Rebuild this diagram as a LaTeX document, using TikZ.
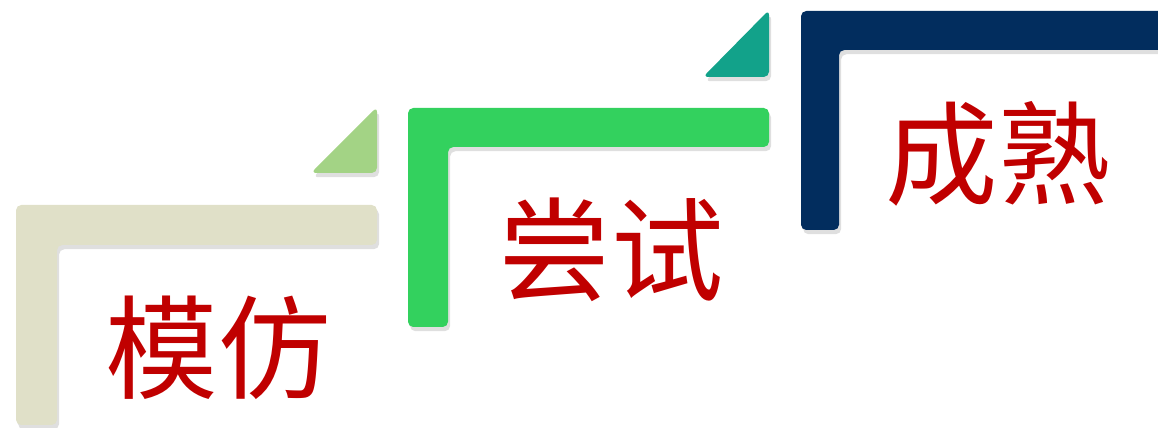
\documentclass[tikz,border=0pt]{standalone}
\usepackage{fontspec}
\newfontfamily\cjk{Noto Sans CJK SC}
\usetikzlibrary{shadows}
\definecolor{stepbeige}{RGB}{224,224,200}
\definecolor{steplime}{RGB}{163,211,133}
\definecolor{stepgreen}{RGB}{51,209,94}
\definecolor{stepteal}{RGB}{18,162,138}
\definecolor{stepnavy}{RGB}{2,45,94}
\definecolor{wordred}{RGB}{192,0,0}
\tikzstyle{bar} = [rounded corners=1.5pt, drop shadow={shadow xshift=0.6pt, shadow yshift=-1.2pt, opacity=0.25}]
\tikzstyle{word} = [text=wordred, font=\cjk\fontsize{32}{32}\selectfont, inner sep=0pt]

\begin{document}
\begin{tikzpicture}[x=0.01cm, y=-0.01cm]
\useasboundingbox (0,0) rectangle (1158,428);
% first step
\fill [bar, fill=stepbeige] (16,205) -- (377,205) -- (377,245) -- (57,245) -- (57,425) -- (16,425) -- cycle;
\fill [bar, fill=steplime] (377,107) -- (377,173) -- (311,173) -- cycle;
% second step
\fill [bar, fill=stepgreen] (408,108) -- (769,108) -- (769,147) -- (448,147) -- (448,327) -- (408,327) -- cycle;
\fill [bar, fill=stepteal] (769,10) -- (769,77) -- (703,77) -- cycle;
% third step
\fill [bar, fill=stepnavy] (801,11) -- (1170,11) -- (1170,50) -- (839,50) -- (839,230) -- (801,230) -- cycle;
\node (imitate) [word] at (218,348) {模仿};
\node (attempt) [word] at (611,250) {尝试};
\node (mature) [word] at (998,154) {成熟};
\end{tikzpicture}
\end{document}
